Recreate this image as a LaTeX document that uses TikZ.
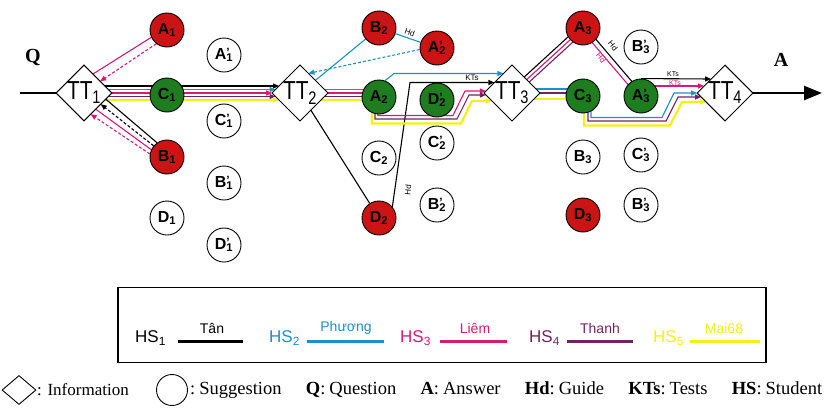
\documentclass[tikz,border=0pt]{standalone}
\usepackage{fontspec}
\setmainfont{Liberation Serif}
\setsansfont{Liberation Sans}
\usepackage{graphicx}
\usetikzlibrary{shapes.geometric,arrows.meta,calc,backgrounds}

\definecolor{nodered}{RGB}{205,20,20}
\definecolor{nodegreen}{RGB}{30,125,30}
\definecolor{hsblue}{RGB}{25,145,205}
\definecolor{hsmag}{RGB}{215,25,120}
\definecolor{hspur}{RGB}{115,35,95}
\definecolor{hsyel}{RGB}{245,240,20}

% circle labels: plain and primed
\newcommand\sub[2]{#1\textsubscript{#2}}
\newcommand\subp[2]{#1\makebox[0pt][l]{\raisebox{0.3ex}{\fontsize{12}{12}\selectfont'}}\textsubscript{#2}}
% diamond labels
\newcommand\ttl[1]{\scalebox{0.8}[1]{TT\textsubscript{#1}}}
% fixed gap after a colon in the key line
\newcommand\cg{\hspace{4pt}}

\tikzset{
  sug/.style={circle,draw,line width=0.9pt,minimum size=34pt,inner sep=0pt,fill=white,
              font=\sffamily\bfseries\fontsize{16}{16}\selectfont},
  sugred/.style={sug,fill=nodered},
  suggreen/.style={sug,fill=nodegreen},
  info/.style={diamond,draw,line width=0.9pt,minimum width=52pt,minimum height=52pt,
               inner sep=0pt,outer sep=0pt,fill=white,font=\sffamily\fontsize{26}{26}\selectfont},
  tip/.style={-{Triangle[length=6pt,width=5pt]}},
  lk/.style={line width=1.1pt,black},
  lb/.style={line width=1.1pt,hsblue},
  lm/.style={line width=1.1pt,hsmag},
  lp/.style={line width=1.1pt,hspur},
  ly/.style={line width=2.2pt,hsyel},
  dsh/.style={dash pattern=on 3pt off 2pt},
  small/.style={font=\sffamily\fontsize{8}{8}\selectfont,inner sep=0pt,text=black},
  tiny/.style={font=\sffamily\fontsize{7}{7}\selectfont,inner sep=0pt,text=black},
  hslbl/.style={font=\sffamily\fontsize{17}{17}\selectfont,inner sep=0pt,anchor=west},
  namelbl/.style={font=\sffamily\fontsize{14}{14}\selectfont,inner sep=0pt},
  swatch/.style={line width=3pt},
  big/.style={font=\bfseries\fontsize{20}{20}\selectfont},
  keytext/.style={anchor=west,inner sep=0pt,font=\fontsize{17}{17}\selectfont},
}

\begin{document}
\begin{tikzpicture}[x=1pt,y=1pt]
\useasboundingbox (0,0) rectangle (827,-408);

% ---- information nodes
\node[info] (TT1) at (84,-93) {\ttl{1}};
\node[info] (TT2) at (300,-93) {\ttl{2}};
\node[info] (TT3) at (512,-93) {\ttl{3}};
\node[info] (TT4) at (725,-93) {\ttl{4}};

% ---- stage 1 suggestions
\node[sugred]   (A1)  at (167,-30)  {\sub{A}{1}};
\node[sug]      (A1p) at (224,-55)  {\subp{A}{1}};
\node[suggreen] (C1)  at (167,-95)  {\sub{C}{1}};
\node[sug]      (C1p) at (224,-121) {\subp{C}{1}};
\node[sugred]   (B1)  at (167,-157) {\sub{B}{1}};
\node[sug]      (B1p) at (224,-183) {\subp{B}{1}};
\node[sug]      (D1)  at (167,-218) {\sub{D}{1}};
\node[sug]      (D1p) at (224,-245) {\subp{D}{1}};

% ---- stage 2 suggestions
\node[sugred]   (B2)  at (379,-28)  {\sub{B}{2}};
\node[sugred]   (A2p) at (437,-48)  {\subp{A}{2}};
\node[suggreen] (A2)  at (379,-97)  {\sub{A}{2}};
\node[suggreen] (D2p) at (437,-100) {\subp{D}{2}};
\node[sug]      (C2p) at (437,-143) {\subp{C}{2}};
\node[sug]      (C2)  at (379,-158) {\sub{C}{2}};
\node[sug]      (B2p) at (437,-205) {\subp{B}{2}};
\node[sugred]   (D2)  at (379,-218) {\sub{D}{2}};

% ---- stage 3 suggestions
\node[sugred]   (A3)  at (583,-28)  {\sub{A}{3}};
\node[sug]      (B3p) at (641,-47)  {\subp{B}{3}};
\node[suggreen] (C3)  at (583,-96)  {\sub{C}{3}};
\node[suggreen] (A3p) at (641,-96)  {\subp{A}{3}};
\node[sug]      (B3)  at (583,-157) {\sub{B}{3}};
\node[sug]      (C3p) at (641,-155) {\subp{C}{3}};
\node[sugred]   (D3)  at (583,-215) {\sub{D}{3}};
\node[sug]      (B3q) at (641,-205) {\subp{B}{3}};

% ---- question in, answer out
\coordinate (qin) at (20,-93);
\coordinate (aout) at (822,-93);
\draw[line width=2.5pt] (qin) -- (TT1.west);
\draw[line width=2.5pt,-{Triangle[length=18pt,width=14pt]}] (TT4.east) -- (aout);
\node[big] at (33,-57) {Q};
\node[big] at (781,-60) {A};

\begin{scope}[on background layer]
  % stage 1: bundle TT1 -> TT2
  \draw[lk,tip] ($(TT1.center)+(0,7)$)    -- ($(TT2.west)+(7,7)$);
  \draw[lb,tip] ($(TT1.center)+(0,3.5)$)  -- ($(TT2.west)+(3.5,3.5)$);
  \draw[lm,tip] (TT1.center)              -- (TT2.west);
  \draw[lp,tip] ($(TT1.center)+(0,-3.5)$) -- ($(TT2.west)+(3.5,-3.5)$);
  \draw[ly,tip] ($(TT1.center)+(0,-7)$)   -- ($(TT2.west)+(7,-7)$);
  % A1 and B1 back to TT1
  \draw[lm]         (A1.205) -- ($(TT1.north)!0.32!(TT1.east)$);
  \draw[lm,dsh,tip] (A1.232) -- ($(TT1.north)!0.58!(TT1.east)$);
  \draw[lk]         (B1.125) -- ($(TT1.east)!0.22!(TT1.south)$);
  \draw[lk,dsh,tip] (B1.140) -- ($(TT1.east)!0.40!(TT1.south)$);
  \draw[lm]         (B1.155) -- ($(TT1.east)!0.58!(TT1.south)$);
  \draw[lm,dsh,tip] (B1.170) -- ($(TT1.east)!0.76!(TT1.south)$);

  % stage 2
  \draw[lb] (TT2) -- (B2);
  \draw[lb] (B2) -- node[small,above=2pt,sloped] {Hd} (A2p);
  \draw[lb,dsh,tip] (A2p.185) -- ($(TT2.north)!0.3!(TT2.east)$);
  \draw[lb] ($(TT2.center)+(0,3.5)$)  -- ($(TT2.center -| A2.center)+(0,3.5)$);
  \draw[lm] (TT2.center)              -- (TT2.center -| A2.center);
  \draw[lp] ($(TT2.center)+(0,-3.5)$) -- ($(TT2.center -| A2.center)+(0,-3.5)$);
  \draw[ly] ($(TT2.center)+(0,-7)$)   -- ($(TT2.center -| A2.center)+(0,-7)$);
  \draw[lb,tip] (A2.70) -- (394,-73.5) -- ($(TT3.west)+(19.5,19.5)$);
  \draw[lk] (TT2) -- (D2);
  \draw[lk,tip] (D2.40) -- (410,-82.5) -- ($(TT3.west)+(10.5,10.5)$);
  \node[small,rotate=84] at (408,-190) {Hd};
  \node[small] at (472,-78) {KTs};
  \draw[lm,tip] ($(A2.center)+(-1,0)$) -- (378,-115.5) -- (453,-115.5) -- (465,-91)  -- ($(TT3.west)+(2,2)$);
  \draw[lp,tip] ($(A2.center)+(-4,0)$) -- (375,-119)   -- (457,-119)   -- (469,-95)  -- ($(TT3.west)+(2,-2)$);
  \draw[ly,tip] ($(A2.center)+(-7,0)$) -- (372,-123.5) -- (461,-123.5) -- (472,-101) -- ($(TT3.west)+(8,-8)$);

  % stage 3
  \draw[lb] ($(TT3.center)+(0,4)$)  -- ($(TT3.center -| C3.center)+(0,4)$);
  \draw[lp] (TT3.center)            -- (TT3.center -| C3.center);
  \draw[ly] ($(TT3.center)+(0,-6)$) -- ($(TT3.center -| C3.center)+(0,-6)$);
  \draw[lk] ($(TT3.center)+(-2.4,2.6)$) -- ($(A3.center)+(-2.4,2.6)$);
  \draw[lm] (TT3.center) -- (A3.center);
  \draw[lp] ($(TT3.center)+(2.4,-2.6)$) -- ($(A3.center)+(2.4,-2.6)$);
  \draw[lk] ($(A3.center)+(1.9,1.6)$)   -- ($(A3p.center)+(1.9,1.6)$);
  \draw[lm] ($(A3.center)+(-1.9,-1.6)$) -- ($(A3p.center)+(-1.9,-1.6)$);
  \node[small,rotate=-50] at (613,-46) {Hd};
  \node[small,rotate=-50,text=hsmag] at (601,-58) {Hd};
  \draw[lk,tip] (A3p.north) -- ($(TT4.west)+(14,14)$);
  \draw[lm,tip] ($(A3p.center)+(0,10)$) -- ($(TT4.west)+(7,7)$);
  \node[tiny] at (673,-74) {KTs};
  \node[tiny,text=hsmag] at (675,-83) {KTs};
  \draw[lb,tip] ($(C3.center)+(8,0)$) -- (591,-117.5) -- (662,-117.5) -- (674,-93)  -- (TT4.west);
  \draw[lp,tip] ($(C3.center)+(5,0)$) -- (588,-121)   -- (666,-121)   -- (678,-97)  -- ($(TT4.west)+(4,-4)$);
  \draw[ly,tip] ($(C3.center)+(1,0)$) -- (584,-125.5) -- (670,-125.5) -- (682,-102) -- ($(TT4.west)+(9,-9)$);
\end{scope}

% ---- student legend
\node[draw,line width=1.1pt,minimum width=648pt,minimum height=75pt,inner sep=0pt] (legend) at (442,-325) {};
\node[hslbl] at (135,-338) {HS\textsubscript{1}};
\draw[swatch,black] (178,-341) -- (243,-341);
\node[namelbl] at (212,-328) {Tân};
\node[hslbl,text=hsblue] at (269,-338) {HS\textsubscript{2}};
\draw[swatch,hsblue] (307,-341) -- (384,-341);
\node[namelbl,text=hsblue] at (346,-328) {Phương};
\node[hslbl,text=hsmag] at (400,-338) {HS\textsubscript{3}};
\draw[swatch,hsmag] (440,-341) -- (507,-341);
\node[namelbl,text=hsmag] at (475,-328) {Liêm};
\node[hslbl,text=hspur] at (529,-338) {HS\textsubscript{4}};
\draw[swatch,hspur] (567,-341) -- (633,-341);
\node[namelbl,text=hspur] at (600,-328) {Thanh};
\node[hslbl,text=hsyel] at (653,-338) {HS\textsubscript{5}};
\draw[swatch,hsyel] (690,-341) -- (760,-341);
\node[namelbl,text=hsyel] at (724,-328) {Mai68};

% ---- symbol key
\node[diamond,draw,line width=0.9pt,minimum width=34pt,minimum height=29pt,inner sep=0pt] (keyinfo) at (19,-390) {};
\node[keytext] at (37,-390) {: Information};
\node[circle,draw,line width=0.9pt,minimum size=31pt,inner sep=0pt] (keysug) at (172,-390) {};
\node[keytext,font=\fontsize{18.5}{18.5}\selectfont] at (190,-390)
  {\makebox[632pt][s]{:\cg Suggestion \textbf{Q}:\cg Question \textbf{A}:\cg Answer \textbf{Hd}:\cg Guide \textbf{KTs}:\cg Tests \textbf{HS}:\cg Student}};
\end{tikzpicture}
\end{document}
